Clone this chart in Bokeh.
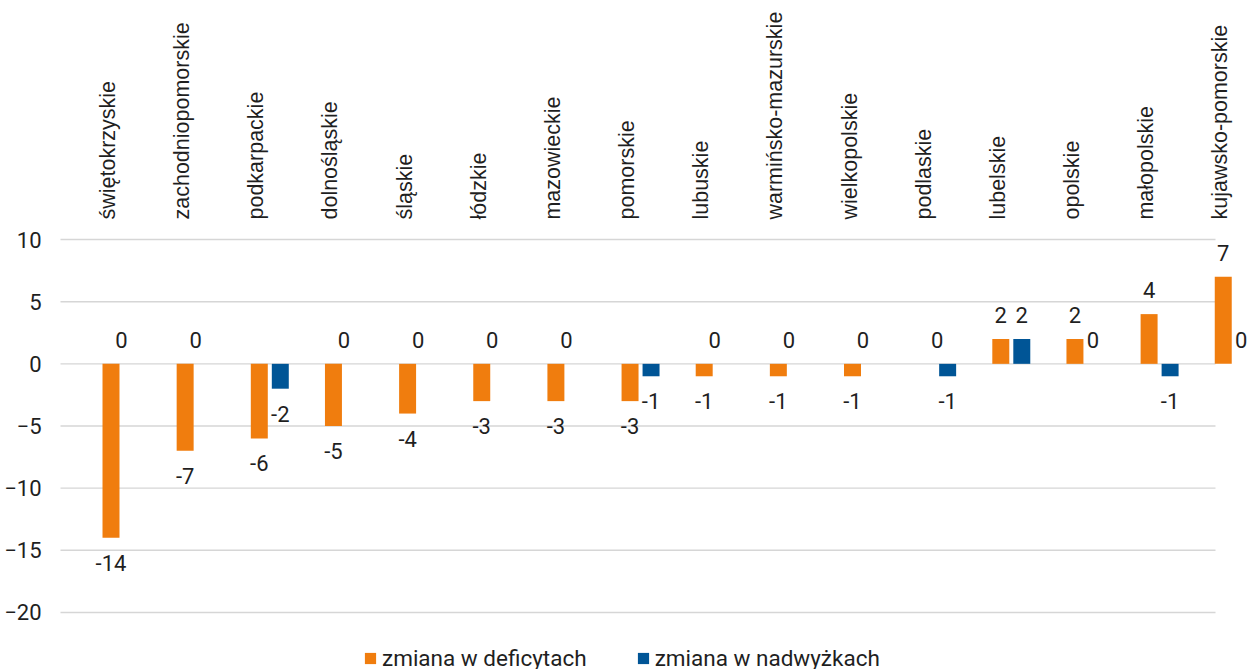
import math
from bokeh.plotting import figure
from bokeh.models import ColumnDataSource, FixedTicker, Legend, LegendItem
from bokeh.core.properties import value
from bokeh.embed import file_html
from bokeh.resources import INLINE

# ---- data ----
regions = ["świętokrzyskie", "zachodniopomorskie", "podkarpackie", "dolnośląskie",
           "śląskie", "łódzkie", "mazowieckie", "pomorskie", "lubuskie",
           "warmińsko-mazurskie", "wielkopolskie", "podlaskie", "lubelskie",
           "opolskie", "małopolskie", "kujawsko-pomorskie"]
deficit = [-14, -7, -6, -5, -4, -3, -3, -3, -1, -1, -1, 0, 2, 2, 4, 7]
surplus = [0, 0, -2, 0, 0, 0, 0, -1, 0, 0, 0, -1, 2, 0, -1, 0]
y_ticks = [-20, -15, -10, -5, 0, 5, 10]
series_names = ["zmiana w deficytach", "zmiana w nadwyżkach"]

# ---- style ----
ORANGE = "#F07D0E"
BLUE = "#005596"
TEXT = "#1f1f1f"
GRID = "#d6d6d6"
NUM_FONT = "Roboto"
CAT_FONT = "Liberation Sans"
FS = "22px"
DODGE = 0.1416
BAR_W = 0.229

idx = list(range(len(regions)))
x_def = [i - DODGE for i in idx]
x_sur = [i + DODGE for i in idx]

lab_x, lab_y, lab_t, lab_off, lab_xoff = [], [], [], [], []
for i in idx:
    for own_x, v, other in ((x_def[i], deficit[i], surplus[i]),
                            (x_sur[i], surplus[i], deficit[i])):
        if v == 0 and other <= 0:
            lab_x.append(float(i))
            lab_xoff.append(0)
        elif v == 0:
            lab_x.append(own_x)
            lab_xoff.append(-3)
        else:
            lab_x.append(own_x)
            lab_xoff.append(0)
        lab_y.append(v)
        lab_t.append(str(v))
        lab_off.append(25 if v < 0 else -24)

src_def = ColumnDataSource(dict(x=x_def, top=deficit))
src_sur = ColumnDataSource(dict(x=x_sur, top=surplus))
src_lab = ColumnDataSource(dict(x=lab_x, y=lab_y, text=lab_t, off=lab_off, xoff=lab_xoff))
src_cat = ColumnDataSource(dict(x=[xx - 0.04 for xx in x_def],
                                y=[max(y_ticks)] * len(regions), text=regions))

p = figure(width=1248, height=669,
           x_range=(-0.9845, 15.199), y_range=(-24.59, 29.23),
           x_axis_location=None, toolbar_location=None, output_backend="svg",
           min_border_left=48, min_border_right=0, min_border_top=0, min_border_bottom=0,
           outline_line_color=None, margin=0)
p.grid.grid_line_color = None
p.background_fill_color = "white"
p.border_fill_color = "white"

# gridlines (limited horizontal extent as in the original)
p.segment(x0=-0.8227, x1=14.754, y0=y_ticks, y1=y_ticks, line_color=GRID, line_width=1.4)

r_def = p.vbar(x="x", top="top", bottom=0, width=BAR_W, source=src_def,
               fill_color=ORANGE, line_color=None)
r_sur = p.vbar(x="x", top="top", bottom=0, width=BAR_W, source=src_sur,
               fill_color=BLUE, line_color=None)

p.text(x="x", y="y", text="text", source=src_lab, y_offset="off", x_offset="xoff",
       text_align="center", text_baseline="middle",
       text_font=value(NUM_FONT), text_font_size=FS, text_color=TEXT)

p.text(x="x", y="y", text="text", source=src_cat, angle=math.pi / 2, y_offset=-20,
       text_align="left", text_baseline="middle",
       text_font=value(CAT_FONT), text_font_size="21.5px", text_color=TEXT)

ax = p.yaxis[0]
ax.ticker = FixedTicker(ticks=y_ticks)
ax.axis_line_color = None
ax.major_tick_line_color = None
ax.minor_tick_line_color = None
ax.major_tick_out = 0
ax.major_tick_in = 0
ax.minor_tick_out = 0
ax.major_label_standoff = 7
ax.major_label_text_font = NUM_FONT
ax.major_label_text_font_size = FS
ax.major_label_text_color = TEXT

legend = Legend(items=[LegendItem(label=series_names[0], renderers=[r_def]),
                       LegendItem(label=series_names[1], renderers=[r_sur])],
                orientation="horizontal", location=(315, -2),
                glyph_width=14, glyph_height=14, label_standoff=5, spacing=49,
                padding=0, margin=0, border_line_color=None, background_fill_alpha=0,
                label_text_font=NUM_FONT, label_text_font_size="22.5px", label_text_color=TEXT)
p.add_layout(legend)

open("out.html", "w").write(file_html(p, INLINE))
